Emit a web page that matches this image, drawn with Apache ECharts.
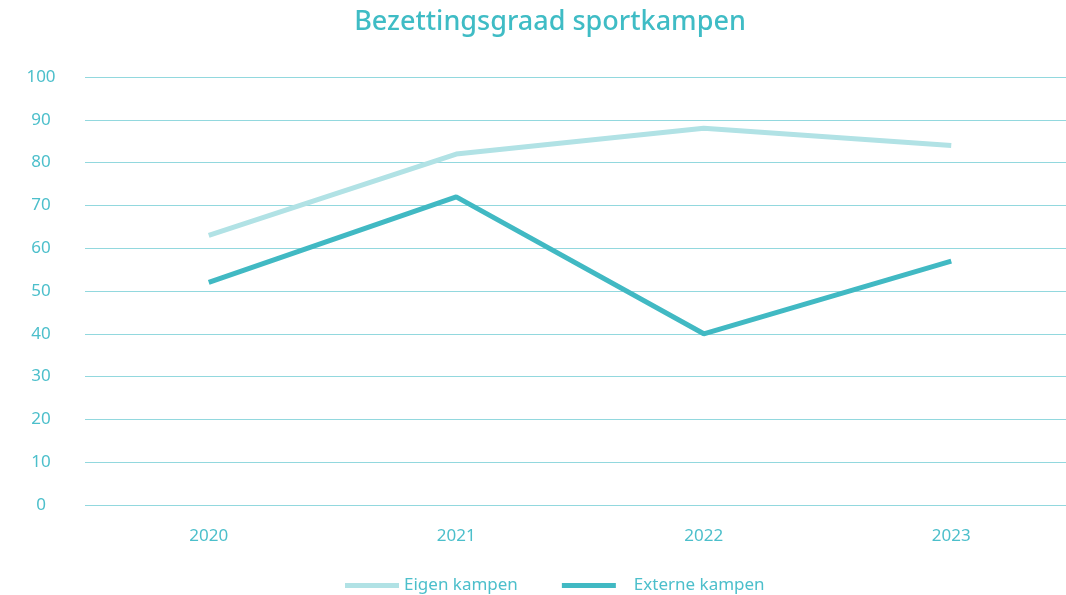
<!DOCTYPE html>
<html>
<head>
<meta charset="utf-8">
<script src="https://cdn.jsdelivr.net/npm/echarts@6/dist/echarts.min.js"></script>
<style>
html,body{margin:0;padding:0;background:#fff;overflow:hidden;}
#chart{width:1100px;height:595px;}
</style>
</head>
<body>
<div id="chart"></div>
<script>
var years = ['2020', '2021', '2022', '2023'];
var eigenKampen = [63, 82, 88, 84];
var externeKampen = [52, 72, 40, 57];
var seriesNames = ['Eigen kampen', 'Externe kampen'];

// chart is a bit wider than the window so the grid can run off the right edge
var chart = echarts.init(document.getElementById('chart'));
var txt = '#4cbfcb';
var font = '"Noto Sans", Lato, sans-serif';
var option = {
    backgroundColor: '#fff',
    animation: false,
    textStyle: { fontFamily: font },
    title: {
        text: 'Bezettingsgraad sportkampen',
        left: 'center',
        top: 4,
        textStyle: { color: '#3fbcc5', fontSize: 27, fontWeight: 500, fontFamily: font }
    },
    legend: {
        top: 572,
        left: 340,
        itemWidth: 54,
        itemHeight: 5,
        itemGap: 44,
        icon: 'rect',
        textStyle: { color: txt, fontSize: 17, fontFamily: font },
        data: [
            { name: seriesNames[0] },
            { name: seriesNames[1], textStyle: { padding: [0, 0, 0, 13] } }
        ]
    },
    grid: { left: 85, width: 990, top: 77, height: 428, containLabel: false },
    xAxis: {
        type: 'category',
        data: years,
        boundaryGap: true,
        axisLine: { show: false },
        axisTick: { show: false },
        axisLabel: { color: txt, fontSize: 17, margin: 23 }
    },
    yAxis: {
        type: 'value',
        min: 0,
        max: 100,
        interval: 10,
        axisLine: { show: false },
        axisTick: { show: false },
        axisLabel: { color: txt, fontSize: 17, align: 'center', margin: 44 },
        splitLine: { lineStyle: { color: '#92d8de', width: 1 } }
    },
    series: [
        {
            name: seriesNames[0],
            type: 'line',
            data: eigenKampen,
            symbol: 'none',
            color: '#b1e2e5',
            lineStyle: { width: 5, color: '#b1e2e5' }
        },
        {
            name: seriesNames[1],
            type: 'line',
            data: externeKampen,
            symbol: 'none',
            color: '#41b9c3',
            lineStyle: { width: 5, color: '#41b9c3' }
        }
    ]
};
chart.setOption(option);
</script>
</body>
</html>
